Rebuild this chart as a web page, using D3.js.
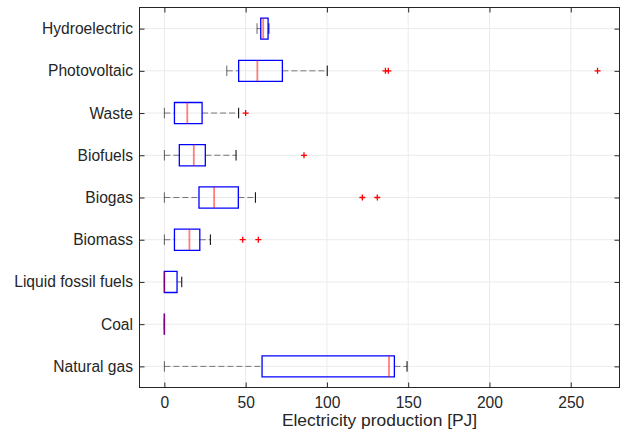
<!DOCTYPE html>
<html>
<head>
<meta charset="utf-8">
<script src="https://d3js.org/d3.v7.min.js"></script>
<style>
  body { margin: 0; background: #fff; }
  svg { display: block; font-family: "Liberation Sans", Arial, sans-serif; }
</style>
</head>
<body>
<div id="chart"></div>
<script>
const categories = ["Hydroelectric", "Photovoltaic", "Waste", "Biofuels", "Biogas", "Biomass", "Liquid fossil fuels", "Coal", "Natural gas"];
const lowerWhisker = [57, 38.4, 0, 0, 0, 0, 0, 0, 0];
const q1 = [59.3, 45.7, 6.2, 9.2, 21.3, 6.2, 0, 0, 60.1];
const medians = [60.8, 57.2, 14.1, 18.1, 30.6, 15.4, 0, 0, 138.2];
const q3 = [63.8, 72.6, 23.2, 25.2, 45.5, 21.8, 7.8, 0, 141.5];
const upperWhisker = [64.3, 100.2, 45.7, 44.1, 56, 28.3, 10.7, 0, 149.3];
const outliers = [[], [136, 137.8, 266.5], [50], [85.9], [121.8, 131], [48.2, 57.8], [], [], []];
const xTicks = [0, 50, 100, 150, 200, 250];
const xLabel = "Electricity production [PJ]";

const W = 621, H = 439;
const margin = {top: 7.5, right: 1.5, bottom: 51.5, left: 139.5};
const width = W - margin.left - margin.right;
const height = H - margin.top - margin.bottom;

const rows = categories.map((c, i) => ({
    name: c, lo: lowerWhisker[i], q1: q1[i], med: medians[i], q3: q3[i], hi: upperWhisker[i], out: outliers[i]
}));

const svg = d3.select("#chart").append("svg")
    .attr("width", W)
    .attr("height", H);

const g = svg.append("g")
    .attr("transform", `translate(${margin.left},${margin.top})`);

const x = d3.scaleLinear().domain([-15.3, 280]).range([0, width]);
const y = d3.scalePoint().domain(categories).range([0, height]).padding(0.5);
const step = y.step();
const boxH = step * 0.5;
const capH = step * 0.25;

const ink = "#262626";

// grid
g.append("g").selectAll("line")
    .data(xTicks).enter().append("line")
    .attr("x1", d => x(d)).attr("x2", d => x(d))
    .attr("y1", 0).attr("y2", height)
    .attr("stroke", "#ebebeb");
g.append("g").selectAll("line")
    .data(categories).enter().append("line")
    .attr("x1", 0).attr("x2", width)
    .attr("y1", d => y(d)).attr("y2", d => y(d))
    .attr("stroke", "#ebebeb");

// boxes
const box = g.selectAll(".box")
    .data(rows).enter().append("g")
    .attr("class", "box");

// whiskers
box.append("line")
    .attr("x1", d => x(d.lo)).attr("x2", d => x(d.q1))
    .attr("y1", d => y(d.name)).attr("y2", d => y(d.name))
    .attr("stroke", "#000").attr("stroke-opacity", 0.5)
    .attr("stroke-dasharray", "6,3");
box.append("line")
    .attr("x1", d => x(d.q3)).attr("x2", d => x(d.hi))
    .attr("y1", d => y(d.name)).attr("y2", d => y(d.name))
    .attr("stroke", "#000").attr("stroke-opacity", 0.5)
    .attr("stroke-dasharray", "6,3");

// caps
box.append("line")
    .attr("x1", d => x(d.lo)).attr("x2", d => x(d.lo))
    .attr("y1", d => y(d.name) - capH / 2).attr("y2", d => y(d.name) + capH / 2)
    .attr("stroke", "#000").attr("stroke-opacity", 0.6);
box.append("line")
    .attr("x1", d => x(d.hi)).attr("x2", d => x(d.hi))
    .attr("y1", d => y(d.name) - capH / 2).attr("y2", d => y(d.name) + capH / 2)
    .attr("stroke", "#000");

// box outline as a path so zero-width boxes (Coal) still show
box.append("path")
    .attr("d", d => {
        const x0 = x(d.q1), x1 = x(d.q3), y0 = y(d.name) - boxH / 2, y1 = y(d.name) + boxH / 2;
        return `M${x0},${y0}H${x1}V${y1}H${x0}Z`;
    })
    .attr("fill", "none")
    .attr("stroke", "#0000ff")
    .attr("stroke-width", 1.3);

box.append("line")
    .attr("x1", d => x(d.med)).attr("x2", d => x(d.med))
    .attr("y1", d => y(d.name) - boxH / 2).attr("y2", d => y(d.name) + boxH / 2)
    .attr("stroke", "#ff0000").attr("stroke-opacity", 0.5)
    .attr("stroke-width", 1.8);

// outliers
box.selectAll(".out")
    .data(d => d.out.map(v => ({v: v, name: d.name})))
    .enter().append("path")
    .attr("class", "out")
    .attr("transform", d => `translate(${x(d.v)},${y(d.name)})`)
    .attr("d", "M-3,0H3M0,-3V3")
    .attr("stroke", "#ff0000")
    .attr("stroke-width", 1.3);

// frame
g.append("rect")
    .attr("width", width).attr("height", height)
    .attr("fill", "none").attr("stroke", ink);

const xAxis = d3.axisBottom(x).tickValues(xTicks).tickSizeInner(-5).tickSizeOuter(0).tickPadding(9.5);
g.append("g")
    .attr("transform", `translate(0,${height})`)
    .call(xAxis)
    .call(a => a.select(".domain").remove())
    .call(a => a.selectAll("line").attr("stroke", ink))
    .selectAll("text")
    .attr("fill", ink)
    .style("font-size", "15.6px");

g.append("g")
    .call(d3.axisTop(x).tickValues(xTicks).tickSizeInner(-5).tickSizeOuter(0).tickFormat(""))
    .call(a => a.select(".domain").remove())
    .call(a => a.selectAll("line").attr("stroke", ink));

const yAxis = d3.axisLeft(y).tickSizeInner(-5).tickSizeOuter(0).tickPadding(6.5);
g.append("g")
    .call(yAxis)
    .call(a => a.select(".domain").remove())
    .call(a => a.selectAll("line").attr("stroke", ink))
    .selectAll("text")
    .attr("fill", ink)
    .style("font-size", "15.6px");

g.append("g")
    .attr("transform", `translate(${width},0)`)
    .call(d3.axisRight(y).tickSizeInner(-5).tickSizeOuter(0).tickFormat(""))
    .call(a => a.select(".domain").remove())
    .call(a => a.selectAll("line").attr("stroke", ink));

g.append("text")
    .attr("x", width / 2)
    .attr("y", height + 38.5)
    .attr("text-anchor", "middle")
    .attr("fill", ink)
    .style("font-size", "17.4px")
    .text(xLabel);
</script>
</body>
</html>
